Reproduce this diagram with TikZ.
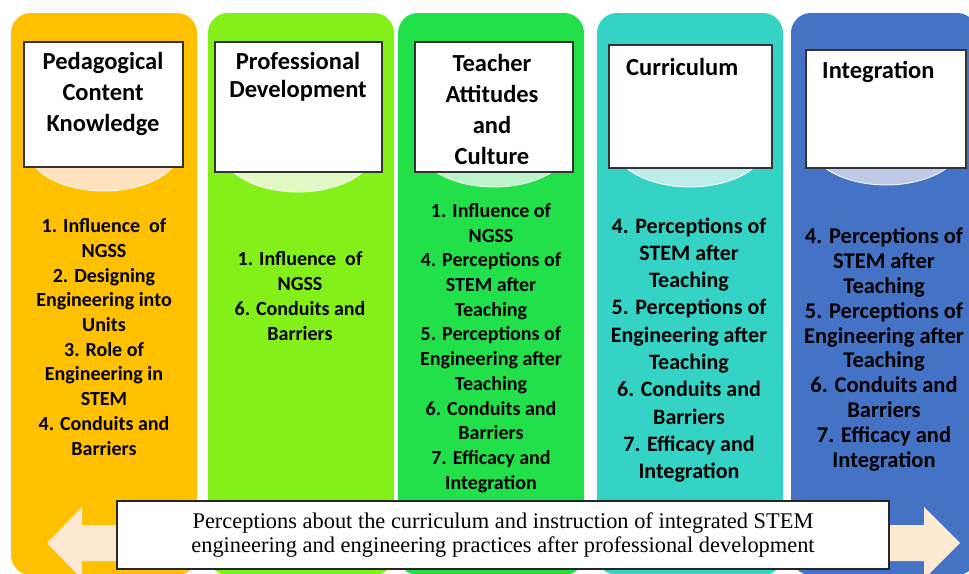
\documentclass[tikz,border=0pt]{standalone}
\usepackage{fontspec}
\setmainfont{Carlito}
\newfontfamily\notefont{Liberation Serif}
\usetikzlibrary{positioning}

\definecolor{colA}{HTML}{FFC000}
\definecolor{colB}{HTML}{84F01A}
\definecolor{colC}{HTML}{22E04A}
\definecolor{colD}{HTML}{34D3C6}
\definecolor{colE}{HTML}{4472C4}
\definecolor{tintA}{HTML}{FFE1BE}
\definecolor{tintB}{HTML}{E2F9C6}
\definecolor{tintC}{HTML}{BDF3C8}
\definecolor{tintD}{HTML}{BEECE9}
\definecolor{tintE}{HTML}{C0C9E6}
\definecolor{peach}{HTML}{FDE8D1}

\tikzset{
  headbox/.style={draw=black!80, line width=1.2pt, fill=white, inner sep=0pt},
  headtext/.style={font=\fontsize{24.5}{31}\selectfont\bfseries, align=center, inner sep=0pt},
  itemtext/.style 2 args={font=\fontsize{#1}{#2}\selectfont\bfseries, align=center, inner sep=0pt},
}

\newcommand{\lateritems}{4. Perceptions of\\STEM after\\Teaching\\5. Perceptions of\\Engineering after\\Teaching\\6. Conduits and\\Barriers\\7. Efficacy and\\Integration}

\begin{document}
\begin{tikzpicture}[x=1pt, y=-1pt]
    \useasboundingbox (0,0) rectangle (969,573);
    \clip (0,0) rectangle (969,573);

    % five columns
    \foreach \x/\c in {11/colA, 208/colB, 398/colC, 597/colD, 791/colE}
        \fill[\c, rounded corners=20pt] (\x,13) rectangle ++(186,562);

    % light half discs under the heads
    \foreach \x/\y/\c in {104/146/tintA, 298/147/tintB, 494/142/tintC, 690/142/tintD, 886/140/tintE}
        \filldraw[fill=\c, draw=white, line width=0.8pt] (\x,\y) ellipse (78 and 45);

    % head boxes
    \node[headbox, minimum width=159pt, minimum height=125pt] (pck) at (103.5,104.5) {};
    \node[headbox, minimum width=167pt, minimum height=130pt] (pd) at (298.5,107) {};
    \node[headbox, minimum width=158pt, minimum height=130pt] (tac) at (494,107) {};
    \node[headbox, minimum width=163pt, minimum height=123pt] (cur) at (690.5,106.5) {};
    \node[headbox, minimum width=160pt, minimum height=118pt] (int) at (886,109) {};

    % head titles
    \node[headtext] (pckt) at (103,94) {Pedagogical\\Content\\Knowledge};
    \node[headtext, font=\fontsize{24.5}{28}\selectfont\bfseries] (pdt) at (298,77) {Professional\\Development};
    \node[headtext] (tact) at (492,109) {Teacher\\Attitudes\\and\\Culture};
    \node[headtext, anchor=west] (curt) at (626,67) {Curriculum};
    \node[headtext, anchor=west] (intt) at (822,72) {Integration};

    % themes in each column
    \node[itemtext={20}{24.7}] (pcki) at (104,337) {1. Influence~ of\\NGSS\\2. Designing\\Engineering into\\Units\\3. Role of\\Engineering in\\STEM\\4. Conduits and\\Barriers};
    \node[itemtext={20}{25}] (pdi) at (300,296.5) {1. Influence~ of\\NGSS\\6. Conduits and\\Barriers};
    \node[itemtext={20}{24.7}] (taci) at (491,348) {1. Influence of\\NGSS\\\lateritems};
    \node[itemtext={22}{27.3}] (curi) at (689,350) {\lateritems};
    \node[itemtext={22.5}{24.8}] (inti) at (884,349.5) {\lateritems};

    % double arrow across the bottom
    \fill[peach] (47,543) -- (82,507) -- (82,525) -- (924,525) -- (924,507) -- (960,543)
        -- (924,579) -- (924,561) -- (82,561) -- (82,579) -- cycle;

    \node[draw=black!85, line width=1.2pt, fill=white, minimum width=772pt, minimum height=68pt,
        font=\notefont\fontsize{22.4}{24}\selectfont, align=center] (note) at (503,535)
        {Perceptions about the curriculum and instruction of integrated STEM\\engineering and engineering practices after professional development};
\end{tikzpicture}
\end{document}
